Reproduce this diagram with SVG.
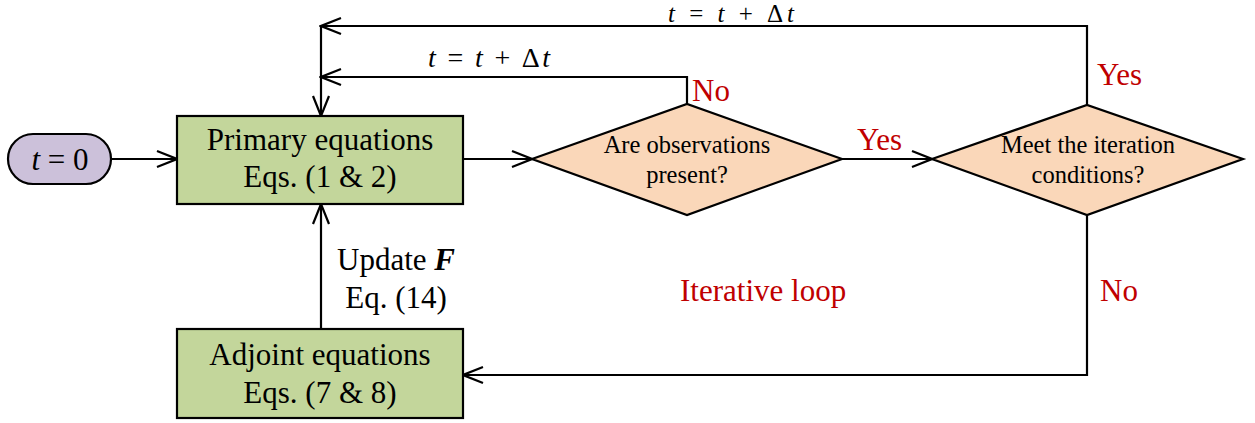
<svg xmlns="http://www.w3.org/2000/svg" width="1255" height="423" viewBox="0 0 1255 423">
<style>
  text { font-family: "Liberation Serif", "Times New Roman", serif; fill: #000; }
  .box { fill: #c3d69b; stroke: #000; stroke-width: 2.2; }
  .start { fill: #ccc1da; stroke: #000; stroke-width: 2.2; }
  .dec { fill: #fad7b9; stroke: #000; stroke-width: 2.2; }
  .big { font-size: 31px; }
  .mid { font-size: 24.5px; }
  .red { fill: #c00000; font-size: 31px; }
  .math { font-size: 28px; }
  .conn { fill: none; stroke: #000; stroke-width: 2.2; }
</style>
<defs>
  <marker id="arr" markerUnits="userSpaceOnUse" markerWidth="24" markerHeight="20" viewBox="-2 -2 24 20" refX="20" refY="8" orient="auto">
    <path d="M0,0 L20,8 L0,16" fill="none" stroke="#000" stroke-width="2.2"/>
  </marker>
</defs>

<g id="connectors">
  <path class="conn" d="M111,159 H177" marker-end="url(#arr)"/>
  <path class="conn" d="M463,159 H532" marker-end="url(#arr)"/>
  <path class="conn" d="M842,159 H932" marker-end="url(#arr)"/>
  <path class="conn" d="M687,104 V77 H321" marker-end="url(#arr)"/>
  <path class="conn" d="M1087,105 V26 H321" marker-end="url(#arr)"/>
  <path class="conn" d="M321,26 V116" marker-end="url(#arr)"/>
  <path class="conn" d="M1087,215 V375 H463" marker-end="url(#arr)"/>
  <path class="conn" d="M321,329 V204" marker-end="url(#arr)"/>
</g>

<g id="start">
  <rect class="start" x="8" y="134" width="103" height="50" rx="25" ry="25"/>
  <text class="big" x="60" y="170" text-anchor="middle"><tspan font-style="italic">t</tspan> = 0</text>
</g>

<g id="primary">
  <rect class="box" x="177" y="116" width="286" height="88"/>
  <text class="big" x="320" y="150" text-anchor="middle">Primary equations</text>
  <text class="big" x="320" y="187" text-anchor="middle">Eqs. (1 &amp; 2)</text>
</g>

<g id="adjoint">
  <rect class="box" x="177" y="329" width="286" height="89"/>
  <text class="big" x="320" y="365" text-anchor="middle">Adjoint equations</text>
  <text class="big" x="320" y="403" text-anchor="middle">Eqs. (7 &amp; 8)</text>
</g>

<g id="observations">
  <polygon class="dec" points="532,159 687,104 842,159 687,215"/>
  <text class="mid" x="687" y="153" text-anchor="middle">Are observations</text>
  <text class="mid" x="687" y="183" text-anchor="middle">present?</text>
</g>

<g id="iteration">
  <polygon class="dec" points="932,159 1087,105 1243,159 1087,215"/>
  <text class="mid" x="1088" y="153" text-anchor="middle">Meet the iteration</text>
  <text class="mid" x="1088" y="183" text-anchor="middle">conditions?</text>
</g>

<g id="labels">
  <text x="668" y="22" font-size="25" textLength="126" lengthAdjust="spacing"><tspan font-style="italic">t</tspan> = <tspan font-style="italic">t</tspan> + Δ<tspan font-style="italic">t</tspan></text>
  <text class="math" x="428" y="67" textLength="122" lengthAdjust="spacing"><tspan font-style="italic">t</tspan> = <tspan font-style="italic">t</tspan> + Δ<tspan font-style="italic">t</tspan></text>
  <text class="big" x="396" y="270" text-anchor="middle">Update <tspan font-weight="bold" font-style="italic">F</tspan></text>
  <text class="big" x="396" y="308" text-anchor="middle">Eq. (14)</text>
  <text class="red" x="692" y="101">No</text>
  <text class="red" x="857" y="150">Yes</text>
  <text class="red" x="1097" y="85">Yes</text>
  <text class="red" x="1100" y="301">No</text>
  <text class="red" x="680" y="301">Iterative loop</text>
</g>
</svg>
